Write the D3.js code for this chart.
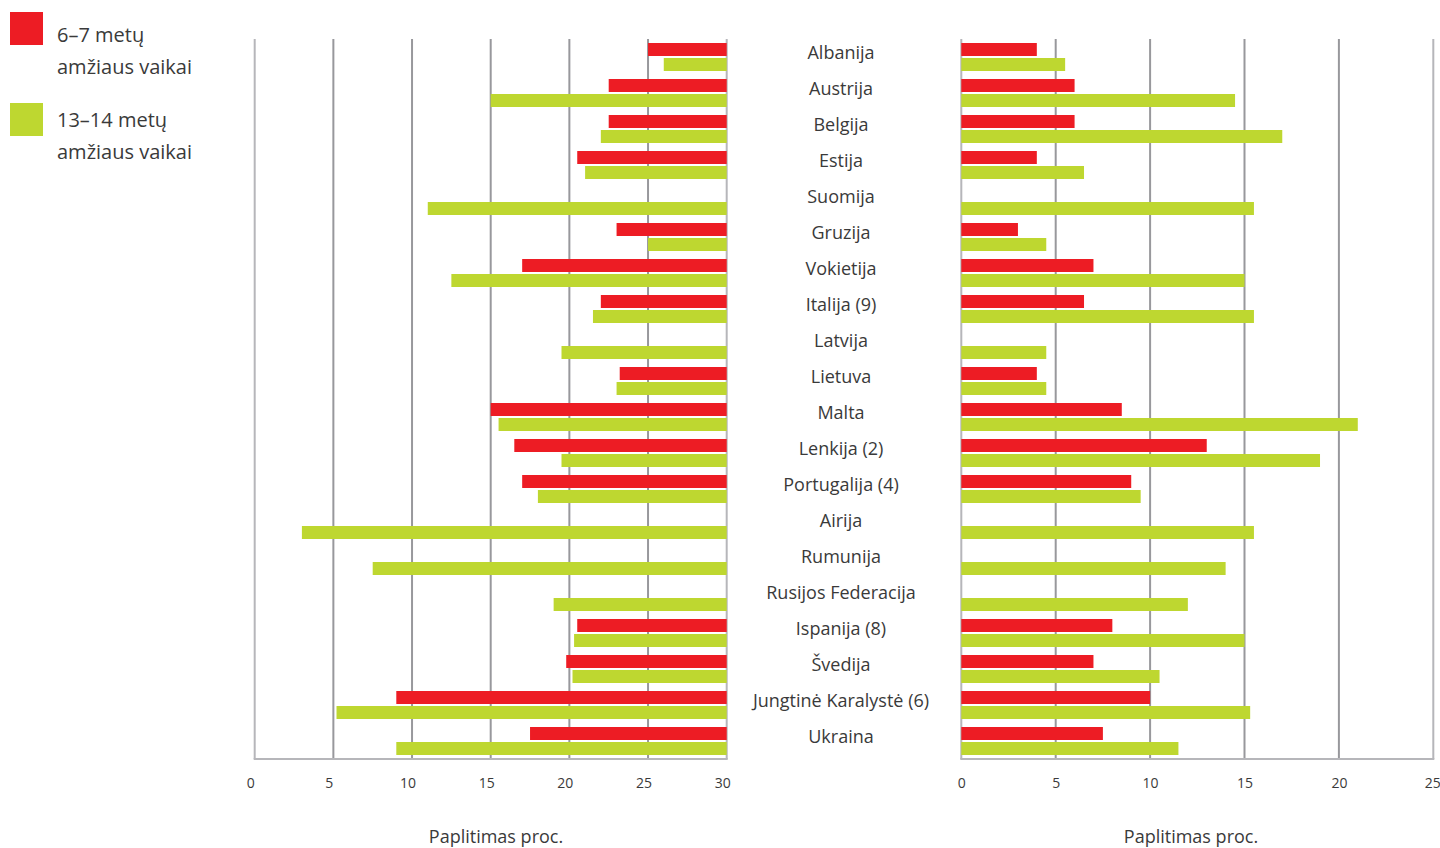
<!DOCTYPE html>
<html>
<head>
<meta charset="utf-8">
<script src="https://cdn.jsdelivr.net/npm/d3@7"></script>
<style>
  html, body { margin: 0; padding: 0; background: #fff; }
  svg { display: block; font-family: "Open Sans", "Noto Sans", sans-serif; }
</style>
</head>
<body>
<svg id="chart" width="1440" height="848"></svg>
<script>
// Countries, top to bottom
const countries = [
  "Albanija", "Austrija", "Belgija", "Estija", "Suomija", "Gruzija", "Vokietija",
  "Italija (9)", "Latvija", "Lietuva", "Malta", "Lenkija (2)", "Portugalija (4)",
  "Airija", "Rumunija", "Rusijos Federacija", "Ispanija (8)", "Švedija",
  "Jungtinė Karalystė (6)", "Ukraina"
];

// Left panel, prevalence (%); null = no data
const leftYoung = [5, 7.5, 7.5, 9.5, null, 7, 13, 8, null, 6.8, 15, 13.5, 13, null, null, null, 9.5, 10.2, 21, 12.5];
const leftOld   = [4, 15, 8, 9, 19, 5, 17.5, 8.5, 10.5, 7, 14.5, 10.5, 12, 27, 22.5, 11, 9.7, 9.8, 24.8, 21];

// Right panel, prevalence (%); null = no data
const rightYoung = [4, 6, 6, 4, null, 3, 7, 6.5, null, 4, 8.5, 13, 9, null, null, null, 8, 7, 10, 7.5];
const rightOld   = [5.5, 14.5, 17, 6.5, 15.5, 4.5, 15, 15.5, 4.5, 4.5, 21, 19, 9.5, 15.5, 14, 12, 15, 10.5, 15.3, 11.5];

const leftTicks  = [0, 5, 10, 15, 20, 25, 30];
const rightTicks = [0, 5, 10, 15, 20, 25];

const groups = ["young", "old"];
const groupLabels = [["6–7 metų", "amžiaus vaikai"], ["13–14 metų", "amžiaus vaikai"]];
const axisTitle = "Paplitimas proc.";

const colors = { young: "#ed1c24", old: "#bed730" };
const gridColor = "#98989c";
const frameColor = "#b6b6ba";
const textColor = "#3a3a3a";

const svg = d3.select("#chart");
const plotTop = 39, plotBottom = 759;

const y = d3.scaleBand().domain(countries).range([plotTop, plotBottom]);
const ySub = d3.scaleBand().domain(groups).range([4, 32]).paddingInner(2 / 15);

const xL = d3.scaleLinear().domain([0, 30]).range([254.7, 726.7]);
const xR = d3.scaleLinear().domain([0, 25]).range([961.3, 1433.3]);

function rows(young, old) {
  const out = [];
  countries.forEach((c, i) => {
    if (young[i] != null) out.push({ country: c, group: "young", value: young[i] });
    if (old[i] != null) out.push({ country: c, group: "old", value: old[i] });
  });
  return out;
}

function panel(x, ticks, data, anchoredRight, labelShift) {
  const g = svg.append("g");
  const [x0, x1] = x.range();

  // vertical gridlines
  g.selectAll("line.grid")
    .data(ticks)
    .join("line")
    .attr("x1", d => x(d)).attr("x2", d => x(d))
    .attr("y1", plotTop).attr("y2", plotBottom)
    .attr("stroke", (d, i) => (i === 0 || i === ticks.length - 1) ? frameColor : gridColor)
    .attr("stroke-width", 2);

  // baseline
  g.append("line")
    .attr("x1", x0 - 1).attr("x2", x1 + 1)
    .attr("y1", plotBottom).attr("y2", plotBottom)
    .attr("stroke", frameColor).attr("stroke-width", 2);

  // bars
  const maxV = x.domain()[1];
  g.selectAll("rect.bar")
    .data(data)
    .join("rect")
    .attr("x", d => anchoredRight ? x(maxV - d.value) : x(0))
    .attr("width", d => anchoredRight ? x(maxV) - x(maxV - d.value) : x(d.value) - x(0))
    .attr("y", d => y(d.country) + ySub(d.group))
    .attr("height", ySub.bandwidth())
    .attr("fill", d => colors[d.group]);

  // tick labels
  const axis = d3.axisBottom(x).tickValues(ticks).tickSize(0).tickPadding(0);
  const ax = g.append("g").attr("transform", `translate(${labelShift},${plotBottom + 19})`).call(axis);
  ax.select(".domain").remove();
  ax.selectAll("text")
    .attr("fill", textColor)
    .attr("font-size", 14)
    .attr("font-family", "\"Open Sans\", sans-serif");
  return ax;
}

panel(xL, leftTicks, rows(leftYoung, leftOld), true, -4.5);
const axR = panel(xR, rightTicks, rows(rightYoung, rightOld), false, 0);
// keep the last right-hand tick label inside the page edge
axR.selectAll(".tick").filter((d, i, n) => i === n.length - 1).select("text")
  .attr("text-anchor", "end").attr("x", 7);

// country labels in the centre column
svg.append("g")
  .selectAll("text")
  .data(countries)
  .join("text")
  .attr("x", 841)
  .attr("y", d => y(d) + y.bandwidth() / 2 - 4)
  .attr("dy", "0.35em")
  .attr("text-anchor", "middle")
  .attr("font-size", 18)
  .attr("fill", textColor)
  .text(d => d);

// axis titles
svg.append("text").attr("x", 496).attr("y", 843).attr("text-anchor", "middle")
  .attr("font-size", 18).attr("fill", textColor).text(axisTitle);
svg.append("text").attr("x", 1191).attr("y", 843).attr("text-anchor", "middle")
  .attr("font-size", 18).attr("fill", textColor).text(axisTitle);

// legend
const legend = svg.append("g");
groups.forEach((k, i) => {
  const ly = 12 + i * 91;
  const ty = 42 + i * 85;
  legend.append("rect").attr("x", 10).attr("y", ly).attr("width", 33).attr("height", 33)
    .attr("fill", colors[k]);
  groupLabels[i].forEach((line, j) => {
    legend.append("text").attr("x", 57).attr("y", ty + j * 32)
      .attr("font-size", 20).attr("fill", textColor).text(line);
  });
});
</script>
</body>
</html>
